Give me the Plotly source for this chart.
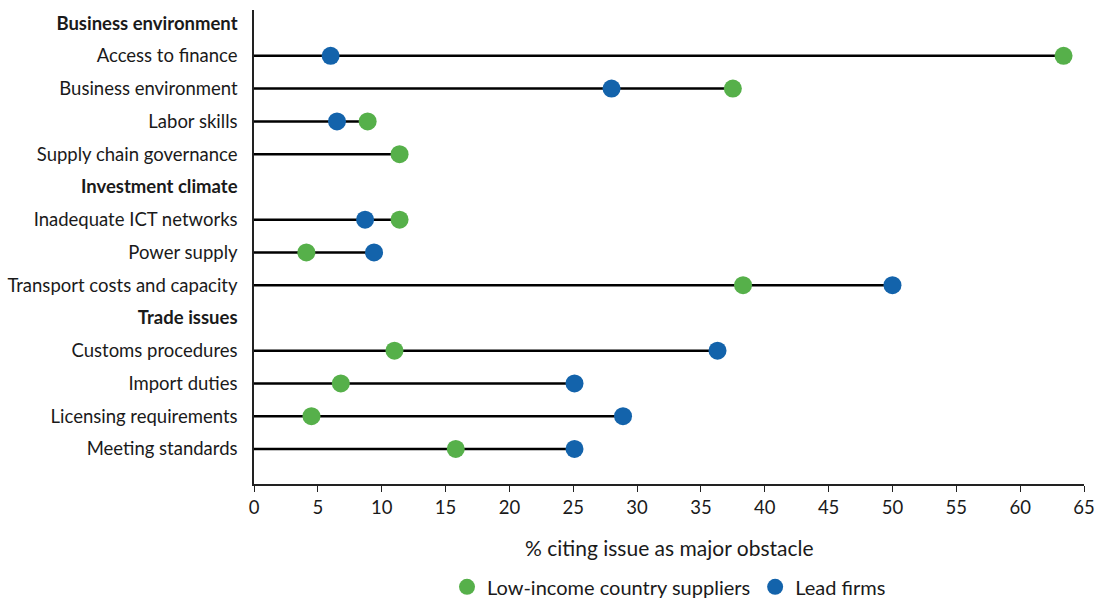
import plotly.graph_objects as go

rows = ["<b>Business environment</b>", "Access to finance", "Business environment", "Labor skills",
        "Supply chain governance", "<b>Investment climate</b>", "Inadequate ICT networks", "Power supply",
        "Transport costs and capacity", "<b>Trade issues</b>", "Customs procedures", "Import duties",
        "Licensing requirements", "Meeting standards"]
suppliers = [None, 63.4, 37.5, 8.9, 11.4, None, 11.4, 4.1, 38.3, None, 11.0, 6.8, 4.5, 15.8]
lead_firms = [None, 6.0, 28.0, 6.5, None, None, 8.7, 9.4, 50.0, None, 36.3, 25.1, 28.9, 25.1]

GREEN = "#56b04a"
BLUE = "#1363ab"
FONT = "Lato"

ypos = list(range(len(rows)))

lx, ly = [], []
for i, (s, l) in enumerate(zip(suppliers, lead_firms)):
    vals = [v for v in (s, l) if v is not None]
    if vals:
        lx += [0, max(vals), None]
        ly += [i, i, None]

fig = go.Figure()
fig.add_trace(go.Scatter(x=lx, y=ly, mode="lines", line=dict(color="black", width=2.5),
                         showlegend=False, hoverinfo="skip"))
fig.add_trace(go.Scatter(x=suppliers, y=ypos, mode="markers", name="Low-income country suppliers",
                         marker=dict(color=GREEN, size=18)))
fig.add_trace(go.Scatter(x=lead_firms, y=ypos, mode="markers", name="Lead firms",
                         marker=dict(color=BLUE, size=18)))

fig.update_layout(
    width=1096, height=599,
    margin=dict(l=254, r=12, t=10, b=115, autoexpand=False),
    plot_bgcolor="white", paper_bgcolor="white",
    font=dict(family=FONT, size=18.5, color="#1a1a1a"),
    showlegend=True,
    legend=dict(orientation="h", x=0.5, xanchor="center", y=-0.217, yanchor="middle",
                font=dict(size=20), itemsizing="trace", traceorder="normal"),
    xaxis=dict(range=[0, 65], tickvals=list(range(0, 66, 5)), showgrid=False, zeroline=False,
               showline=True, linecolor="#222", linewidth=1.5, ticks="outside", ticklen=6,
               tickcolor="#222", tickfont=dict(size=18.5), automargin=False),
    yaxis=dict(range=[len(rows) - 1 + 1.07, -0.4], tickvals=ypos, ticktext=rows, showgrid=False,
               zeroline=False, showline=True, linecolor="#222", linewidth=1.5, ticks="",
               tickfont=dict(size=18.5), ticklabelstandoff=11, automargin=False),
)
fig.add_annotation(text="% citing issue as major obstacle", xref="paper", yref="paper",
                   x=0.5, y=-0.133, yanchor="middle", showarrow=False, font=dict(size=21))

fig.write_html("out.html", config={"displayModeBar": False},
               post_script="document.body.style.margin='0';document.body.style.overflow='hidden';")
